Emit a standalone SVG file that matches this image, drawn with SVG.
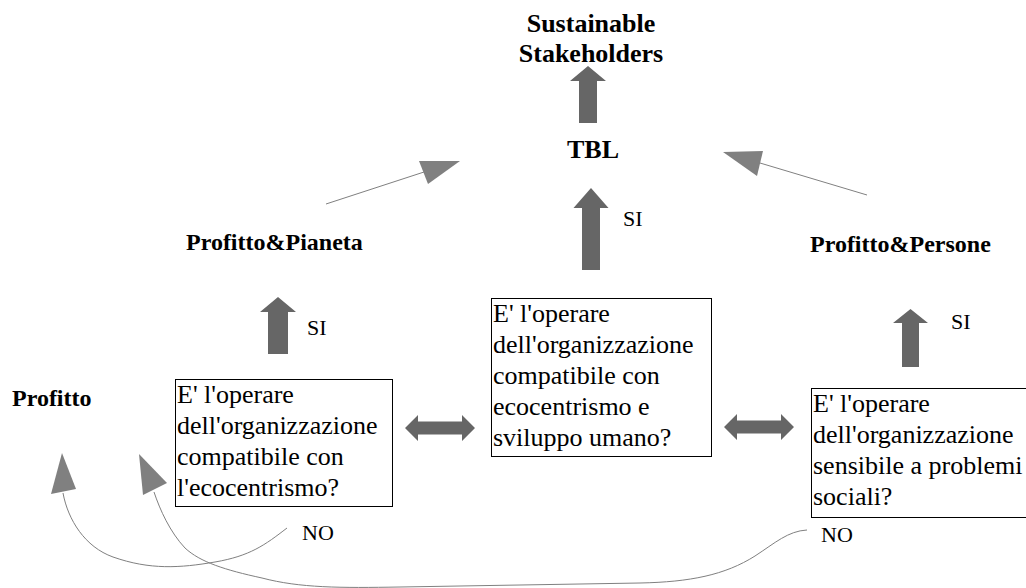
<svg xmlns="http://www.w3.org/2000/svg" width="1026" height="588" viewBox="0 0 1026 588">
<style>
  .bold { font-family: "Liberation Serif", "Times New Roman", serif; font-weight: bold; fill: #000; }
  .reg { font-family: "Liberation Serif", "Times New Roman", serif; fill: #000; }
  .box { fill: #fff; stroke: #000; stroke-width: 1; }
  .thick { fill: #666666; stroke: none; }
  .thin { fill: none; stroke: #808080; stroke-width: 1; }
  .head { fill: #808080; stroke: none; }
</style>
<rect x="0" y="0" width="1026" height="588" fill="#fff"/>

<g id="node-stakeholders">
  <text class="bold" font-size="26" text-anchor="middle" x="591" y="32">Sustainable</text>
  <text class="bold" font-size="26" text-anchor="middle" x="591" y="62">Stakeholders</text>
</g>
<g id="node-tbl">
  <text class="bold" font-size="26" text-anchor="middle" x="593" y="158">TBL</text>
</g>
<g id="node-profitto-pianeta">
  <text class="bold" font-size="24" x="186" y="250">Profitto&amp;Pianeta</text>
</g>
<g id="node-profitto-persone">
  <text class="bold" font-size="24" x="810" y="252">Profitto&amp;Persone</text>
</g>
<g id="node-profitto">
  <text class="bold" font-size="24" x="12" y="406">Profitto</text>
</g>
<g id="node-q-ecocentrismo">
  <rect class="box" x="175.5" y="379.5" width="217" height="127"/>
  <text class="reg" font-size="26" x="177">
    <tspan x="177" y="403">E' l'operare</tspan>
    <tspan x="177" y="434">dell'organizzazione</tspan>
    <tspan x="177" y="465">compatibile con</tspan>
    <tspan x="177" y="496">l'ecocentrismo?</tspan>
  </text>
</g>
<g id="node-q-sviluppo">
  <rect class="box" x="491.5" y="298.5" width="220" height="158"/>
  <text class="reg" font-size="26" x="493">
    <tspan x="493" y="322">E' l'operare</tspan>
    <tspan x="493" y="353">dell'organizzazione</tspan>
    <tspan x="493" y="384">compatibile con</tspan>
    <tspan x="493" y="415">ecocentrismo e</tspan>
    <tspan x="493" y="446">sviluppo umano?</tspan>
  </text>
</g>
<g id="node-q-sociali">
  <rect class="box" x="811.5" y="388.5" width="230" height="129"/>
  <text class="reg" font-size="26" x="813">
    <tspan x="813" y="412">E' l'operare</tspan>
    <tspan x="813" y="443">dell'organizzazione</tspan>
    <tspan x="813" y="474">sensibile a problemi</tspan>
    <tspan x="813" y="505">sociali?</tspan>
  </text>
</g>

<g id="connectors">
  <!-- thick up arrows -->
  <path class="thick" d="M588,66 L606,81 L597,81 L597,123 L579,123 L579,81 L570,81 Z"/>
  <path class="thick" d="M591,188 L608.5,208 L600,208 L600,270 L582,270 L582,208 L573.5,208 Z"/>
  <path class="thick" d="M278,297 L296,312 L288,312 L288,354 L268,354 L268,312 L260,312 Z"/>
  <path class="thick" d="M910.5,309 L928,323 L919,323 L919,367 L902,367 L902,323 L893,323 Z"/>
  <!-- double arrows -->
  <path class="thick" d="M405,428 L418,415 L418,421.5 L462,421.5 L462,415 L475,428 L462,441 L462,434.5 L418,434.5 L418,441 Z"/>
  <path class="thick" d="M724,427 L737,414 L737,420.5 L781,420.5 L781,414 L794,427 L781,440 L781,433.5 L737,433.5 L737,440 Z"/>
  <!-- thin arrows to TBL -->
  <line class="thin" x1="326" y1="204" x2="424" y2="172"/>
  <polygon class="head" points="460,161 419,161 428,184"/>
  <line class="thin" x1="867" y1="195" x2="760" y2="163"/>
  <polygon class="head" points="723,152 763,151 757,176"/>
  <!-- NO curves -->
  <path class="thin" d="M287,528 C265,545 250,556 215,562 C180,568 150,570 113,557 C85,547 68,520 63,493"/>
  <polygon class="head" points="62,453 51,494 76,489"/>
  <path class="thin" d="M807,530 C788,531 775,543 755,556 C725,575 690,582 640,583 C560,584 480,586 400,587 C340,588 300,588 262,578 C225,570 200,562 185,548 C170,532 160,510 154,492"/>
  <polygon class="head" points="139,454 143,495 167,483"/>
  <!-- labels -->
  <text class="reg" font-size="22" x="307" y="335">SI</text>
  <text class="reg" font-size="22" x="623" y="226">SI</text>
  <text class="reg" font-size="22" x="951" y="329">SI</text>
  <text class="reg" font-size="22" x="302" y="540">NO</text>
  <text class="reg" font-size="22" x="821" y="542">NO</text>
</g>
</svg>
